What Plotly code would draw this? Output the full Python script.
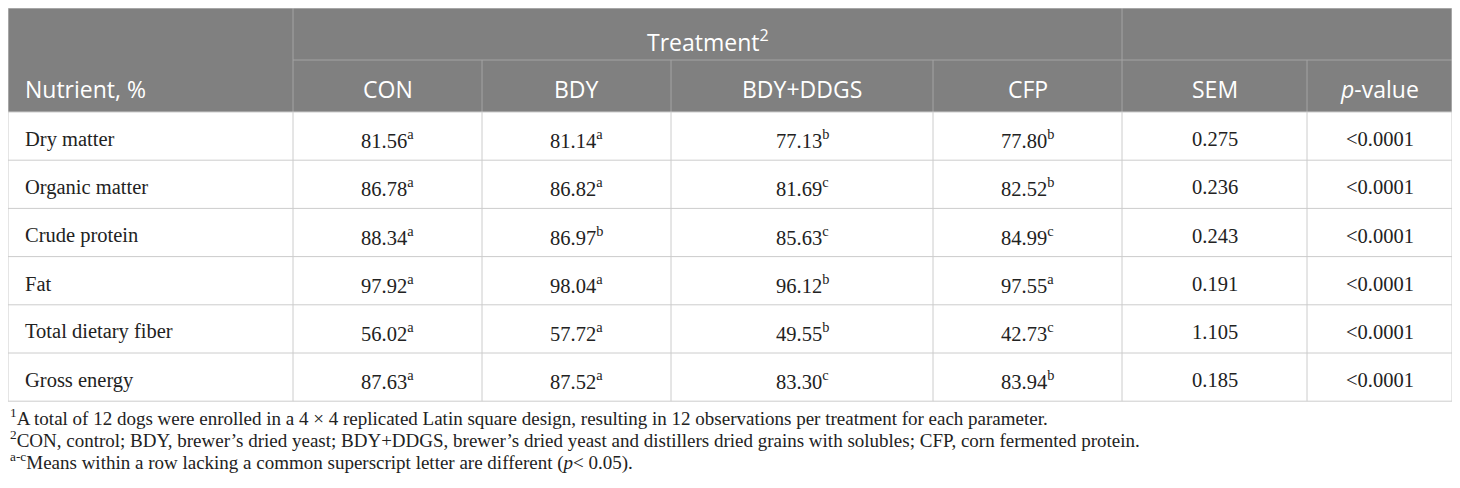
import plotly.graph_objects as go

# table data
nutrients = ["Dry matter", "Organic matter", "Crude protein", "Fat",
             "Total dietary fiber", "Gross energy"]
treatments = ["CON", "BDY", "BDY+DDGS", "CFP"]

con_vals = [81.56, 86.78, 88.34, 97.92, 56.02, 87.63]
con_sup = ["a", "a", "a", "a", "a", "a"]
bdy_vals = [81.14, 86.82, 86.97, 98.04, 57.72, 87.52]
bdy_sup = ["a", "a", "b", "a", "a", "a"]
bdy_ddgs_vals = [77.13, 81.69, 85.63, 96.12, 49.55, 83.30]
bdy_ddgs_sup = ["b", "c", "c", "b", "b", "c"]
cfp_vals = [77.80, 82.52, 84.99, 97.55, 42.73, 83.94]
cfp_sup = ["b", "b", "c", "a", "c", "b"]
sem_vals = [0.275, 0.236, 0.243, 0.191, 1.105, 0.185]
p_values = ["<0.0001"] * 6

footnotes = [
    "<sup>1</sup>A total of 12 dogs were enrolled in a 4 × 4 replicated Latin square design, "
    "resulting in 12 observations per treatment for each parameter.",
    "<sup>2</sup>CON, control; BDY, brewer’s dried yeast; BDY+DDGS, brewer’s dried yeast and "
    "distillers dried grains with solubles; CFP, corn fermented protein.",
    "<sup>a-c</sup>Means within a row lacking a common superscript letter are different "
    "(<i>p</i>&lt; 0.05).",
]

# layout (page pixels; the plot div sits 8px in from the page corner)
W, H = 1460, 488
OFF = 8
col_edges = [8, 293, 482, 671, 933, 1122, 1307, 1452]
top, head_mid, head_bot = 8, 60, 112
row_h = 48.2
n_rows = len(nutrients)
table_bot = head_bot + row_h * n_rows

HEAD_BG = "#808080"
HEAD_LINE = "#a3a3a3"
GRID = "#cccccc"
TXT = "#222222"
head_font = dict(family="Open Sans", size=23, color="white")
body_font = dict(family="Liberation Serif", size=20.5, color=TXT)
note_font = dict(family="Liberation Serif", size=19, color=TXT)

shapes = []
annotations = []


def line(x0, y0, x1, y1, color):
    shapes.append(dict(type="line", xref="x", yref="y", x0=x0, y0=y0, x1=x1, y1=y1,
                       line=dict(color=color, width=1)))


def text(x, y, s, font, xanchor="center"):
    annotations.append(dict(x=x, y=y, xref="x", yref="y", text=s, showarrow=False,
                            font=font, xanchor=xanchor, yanchor="middle"))


# header background
shapes.append(dict(type="rect", xref="x", yref="y", x0=col_edges[0], x1=col_edges[-1],
                   y0=top, y1=head_bot, fillcolor=HEAD_BG, line=dict(width=0), layer="below"))

# header grid
line(col_edges[1], head_mid, col_edges[-1], head_mid, HEAD_LINE)
line(col_edges[1], top, col_edges[1], head_bot, HEAD_LINE)
line(col_edges[5], top, col_edges[5], head_bot, HEAD_LINE)
for i in (2, 3, 4, 6):
    line(col_edges[i], head_mid, col_edges[i], head_bot, HEAD_LINE)

# body grid
for r in range(n_rows + 1):
    y = head_bot + r * row_h
    line(col_edges[0], y, col_edges[-1], y, GRID)
for x in col_edges:
    line(x, head_bot, x, table_bot, GRID)
line(col_edges[0], top, col_edges[-1], top, GRID)
line(col_edges[0], top, col_edges[0], head_bot, GRID)
line(col_edges[-1], top, col_edges[-1], head_bot, GRID)


def centre(i):
    return (col_edges[i] + col_edges[i + 1]) / 2


# header text
text((col_edges[1] + col_edges[5]) / 2, 41, "Treatment<sup>2</sup>", head_font)
text(col_edges[0] + 15, 89, "Nutrient, %", head_font, xanchor="left")
for i, t in enumerate(treatments):
    text(centre(i + 1), 89, t, head_font)
text(centre(5), 89, "SEM", head_font)
text(centre(6), 89, "<i>p</i>-value", head_font)

# body text
series = [(con_vals, con_sup), (bdy_vals, bdy_sup),
          (bdy_ddgs_vals, bdy_ddgs_sup), (cfp_vals, cfp_sup)]
for r in range(n_rows):
    y = head_bot + r * row_h + row_h / 2 + 3
    text(col_edges[0] + 15, y, nutrients[r], body_font, xanchor="left")
    for j, (vals, sups) in enumerate(series):
        text(centre(j + 1), y, f"{vals[r]:.2f}<sup>{sups[r]}</sup>", body_font)
    text(centre(5), y, f"{sem_vals[r]:.3f}", body_font)
    text(centre(6), y, p_values[r].replace("<", "&lt;"), body_font)

# footnotes
for k, note in enumerate(footnotes):
    text(col_edges[0], 417 + k * 22, note, note_font, xanchor="left")

fig = go.Figure()
fig.update_layout(
    width=W - OFF, height=H - OFF,
    margin=dict(l=0, r=0, t=0, b=0),
    paper_bgcolor="white", plot_bgcolor="white",
    xaxis=dict(range=[OFF, W], visible=False, fixedrange=True),
    yaxis=dict(range=[H, OFF], visible=False, fixedrange=True),
    shapes=shapes, annotations=annotations,
    showlegend=False,
)
fig.write_html("out.html")
